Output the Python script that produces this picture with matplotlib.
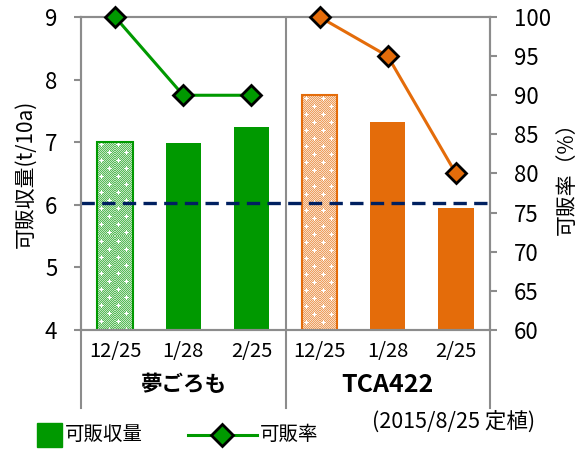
import matplotlib
matplotlib.use("Agg")
import matplotlib.pyplot as plt
from matplotlib.patches import Rectangle
from matplotlib.lines import Line2D
from matplotlib.colors import to_rgb
import numpy as np

plt.rcParams['font.family'] = ['Noto Sans CJK JP', 'DejaVu Sans']

dates = ["12/25", "1/28", "2/25", "12/25", "1/28", "2/25"]
groups = ["夢ごろも", "TCA422"]
yield_green = [7.01, 6.98, 7.24]
yield_orange = [7.75, 7.32, 5.95]
rate_green = [100, 90, 90]
rate_orange = [100, 95, 80]
ref_line = 6.03

GREEN = "#009900"
ORANGE = "#E46C0A"
NAVY = "#002060"
GRAY = "#8c8c8c"

fig = plt.figure(figsize=(5.8, 4.5), dpi=100)
ax = fig.add_axes([0.1397, 0.2667, 0.7051, 0.6955])
ax2 = ax.twinx()
ax.set_xlim(-0.5, 5.5)
ax.set_ylim(4, 9)
ax2.set_ylim(60, 100)


def texture(wpx, hpx, base):
    b = np.array(to_rgb(base))
    dark = b * 0.65 + 0.35
    light = b * 0.25 + 0.75
    yy, xx = np.mgrid[0:hpx, 0:wpx]
    img = np.where(((xx + yy) % 2 == 0)[..., None], dark, light)
    # white plus signs on a staggered grid
    for cy in range(3, hpx, 8):
        off = 4 if (cy // 8) % 2 == 0 else 12
        for cx in range(off, wpx, 16):
            for dx, dy in [(0, 0), (1, 0), (-1, 0), (0, 1), (0, -1), (2, 0), (-2, 0), (0, 2), (0, -2)]:
                px, py = cx + dx, cy + dy
                if 0 <= px < wpx and 0 <= py < hpx:
                    img[py, px] = 1.0
    return img


x = np.arange(6)
w = 0.52
vals = yield_green + yield_orange
for i, v in enumerate(vals):
    base_c = GREEN if i < 3 else ORANGE
    if i % 3 == 0:
        bars = ax.bar(x[i], v - 4, bottom=4, width=w, facecolor="none", edgecolor=base_c,
                      linewidth=1.5, zorder=3)
        p = bars[0]
        x0, y0 = p.get_x(), p.get_y()
        x1, y1 = x0 + p.get_width(), y0 + p.get_height()
        (dx0, dy0), (dx1, dy1) = ax.transData.transform([(x0, y0), (x1, y1)])
        img = texture(int(round(dx1 - dx0)), int(round(dy1 - dy0)), base_c)
        im = ax.imshow(img, extent=(x0, x1, y0, y1), aspect="auto", interpolation="nearest",
                       zorder=2, origin="upper")
        im.set_clip_path(p)
    else:
        ax.bar(x[i], v - 4, bottom=4, width=w, color=base_c, linewidth=0, zorder=2)

ax.set_xlim(-0.5, 5.5)
ax.set_ylim(4, 9)
ax.axhline(ref_line, color=NAVY, lw=2.4, dashes=(4, 2.2), zorder=4)
ax.axvline(2.5, color=GRAY, lw=1.5, zorder=1)

ax.set_yticks(range(4, 10))
ax.set_xticks([])
ax2.set_yticks(range(60, 101, 5))

ax2.plot(x[:3], rate_green, color=GREEN, lw=2.2, marker="D", markersize=10,
         markerfacecolor=GREEN, markeredgecolor="black", markeredgewidth=2, zorder=5, clip_on=False)
ax2.plot(x[3:], rate_orange, color=ORANGE, lw=2.2, marker="D", markersize=10,
         markerfacecolor=ORANGE, markeredgecolor="black", markeredgewidth=2, zorder=5, clip_on=False)
ax2.set_zorder(ax.get_zorder() + 1)
ax2.patch.set_visible(False)

for a in (ax, ax2):
    for s in a.spines.values():
        s.set_color(GRAY)
        s.set_linewidth(1.5)
    a.tick_params(axis="y", colors=GRAY, labelcolor="black", labelsize=16, length=5, width=1.5, pad=12)

ax.set_ylabel("可販収量(t/10a)", fontsize=15, labelpad=6)
ax2.set_ylabel("可販率（%）", fontsize=15, labelpad=4)

# category labels
for i, d in enumerate(dates):
    ax.text(x[i], -0.07, d, transform=ax.get_xaxis_transform(), ha="center", va="center", fontsize=14.5)
ax.text(1, -0.175, groups[0], transform=ax.get_xaxis_transform(), ha="center", va="center",
        fontsize=15.5, fontweight="bold")
ax.text(4, -0.175, groups[1], transform=ax.get_xaxis_transform(), ha="center", va="center",
        fontsize=18, fontweight="bold")
for xv in (-0.5, 2.5, 5.5):
    ax.add_line(Line2D([xv, xv], [0, -0.25], transform=ax.get_xaxis_transform(),
                       color=GRAY, lw=1.5, clip_on=False))

fig.text(535 / 580, 1 - 422 / 450, "(2015/8/25 定植)", ha="right", va="center", fontsize=15.5)

# legend
ly = 1 - 435 / 450
fig.patches.append(Rectangle((37 / 580, 1 - 447 / 450), 25 / 580, 24 / 450,
                             transform=fig.transFigure, color=GREEN))
fig.text(65 / 580, ly, "可販収量", ha="left", va="center", fontsize=14)
fig.lines.append(Line2D([188 / 580, 257 / 580], [ly] * 2, transform=fig.transFigure,
                        color=GREEN, lw=2.2))
fig.lines.append(Line2D([222 / 580], [ly], transform=fig.transFigure, marker="D",
                        markersize=11.5, markerfacecolor=GREEN, markeredgecolor="black",
                        markeredgewidth=2, lw=0))
fig.text(260 / 580, ly, "可販率", ha="left", va="center", fontsize=14)

fig.savefig("out.png", dpi=100)
